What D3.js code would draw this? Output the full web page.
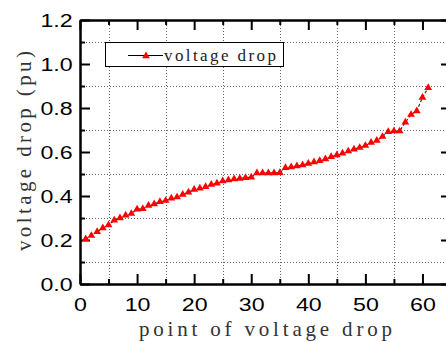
<!DOCTYPE html>
<html>
<head>
<meta charset="utf-8">
<script src="https://cdn.jsdelivr.net/npm/d3@7"></script>
<style>
  body { margin:0; background:#fff; }
  svg { display:block; }
</style>
</head>
<body>
<script>
// --- data -----------------------------------------------------------
const points = d3.range(1, 62);
const drop = [
  0.205, 0.220, 0.238, 0.255, 0.268, 0.290, 0.300, 0.313, 0.320, 0.340,
  0.342, 0.357, 0.364, 0.374, 0.379, 0.390, 0.395, 0.407, 0.417, 0.430,
  0.435, 0.442, 0.452, 0.458, 0.468, 0.473, 0.477, 0.480, 0.483, 0.485,
  0.505, 0.505, 0.505, 0.505, 0.506, 0.528, 0.532, 0.536, 0.541, 0.548,
  0.555, 0.560, 0.568, 0.578, 0.586, 0.594, 0.604, 0.613, 0.620, 0.629,
  0.643, 0.652, 0.670, 0.692, 0.695, 0.695, 0.735, 0.770, 0.786, 0.848,
  0.892
];
const xMajor = [0, 10, 20, 30, 40, 50, 60];
const xMinor = [5, 15, 25, 35, 45, 55, 65];
const yMajor = [0, 0.2, 0.4, 0.6, 0.8, 1.0, 1.2];
const yMinor = [0.1, 0.3, 0.5, 0.7, 0.9, 1.1];
const seriesName = "voltage drop";
const xTitle = "point of voltage drop";
const yTitle = "voltage drop (pu)";

const W = 446, H = 342;
const margin = { top:20, right:-5, bottom:58, left:80 };
const SX = 1.22; // tick labels look horizontally stretched
const SERIF = "Liberation Serif, serif";

const x = d3.scaleLinear([0, 65], [margin.left, W - margin.right]);
const y = d3.scaleLinear([0, 1.2], [H - margin.bottom, margin.top]);

const svg = d3.select("body").append("svg")
  .attr("width", W).attr("height", H)
  .attr("viewBox", `0 0 ${W} ${H}`);

// --- dotted grid on minor positions -----------------------------------
const grid = svg.append("g")
  .attr("stroke", "#666").attr("stroke-width", 1)
  .attr("stroke-dasharray", "1,2");
grid.selectAll("line.v").data(xMinor).join("line").attr("class", "v")
  .attr("x1", d => Math.round(x(d)) + .5).attr("x2", d => Math.round(x(d)) + .5)
  .attr("y1", y(0)).attr("y2", y(1.2));
grid.selectAll("line.h").data(yMinor).join("line").attr("class", "h")
  .attr("y1", d => Math.round(y(d)) + .5).attr("y2", d => Math.round(y(d)) + .5)
  .attr("x1", x(0)).attr("x2", x(65));

// --- axes (ticks point inward) ------------------------------------------
function styleAxis(g) {
  g.select(".domain").attr("stroke", "#000").attr("stroke-width", 2);
  g.selectAll(".tick line").attr("stroke", "#000").attr("stroke-width", 2);
  g.selectAll("text").attr("fill", "#000")
    .attr("font-family", "Liberation Sans, Arial, sans-serif")
    .attr("font-size", 19)
    .attr("transform", `scale(${SX},1)`);
}
const noLabel = () => "";

// bottom
svg.append("g").attr("transform", `translate(0,${y(0)})`)
  .call(d3.axisBottom(x).tickValues(xMinor).tickSize(-5).tickFormat(noLabel).tickSizeOuter(0))
  .call(styleAxis);
svg.append("g").attr("transform", `translate(0,${y(0)})`)
  .call(d3.axisBottom(x).tickValues(xMajor).tickSize(-10).tickPadding(14)
        .tickFormat(d3.format("d")).tickSizeOuter(0))
  .call(styleAxis);
// top
svg.append("g").attr("transform", `translate(0,${y(1.2)})`)
  .call(d3.axisTop(x).tickValues(xMinor).tickSize(-5).tickFormat(noLabel).tickSizeOuter(0))
  .call(styleAxis);
svg.append("g").attr("transform", `translate(0,${y(1.2)})`)
  .call(d3.axisTop(x).tickValues(xMajor).tickSize(-10).tickFormat(noLabel).tickSizeOuter(0))
  .call(styleAxis);
// left
svg.append("g").attr("transform", `translate(${x(0)},0)`)
  .call(d3.axisLeft(y).tickValues(yMinor).tickSize(-5).tickFormat(noLabel).tickSizeOuter(0))
  .call(styleAxis);
svg.append("g").attr("transform", `translate(${x(0)},0)`)
  .call(d3.axisLeft(y).tickValues(yMajor).tickSize(-10).tickPadding(6)
        .tickFormat(d3.format(".1f")).tickSizeOuter(0))
  .call(styleAxis);
// right
svg.append("g").attr("transform", `translate(${x(65)},0)`)
  .call(d3.axisRight(y).tickValues(yMinor).tickSize(-5).tickFormat(noLabel).tickSizeOuter(0))
  .call(styleAxis);
svg.append("g").attr("transform", `translate(${x(65)},0)`)
  .call(d3.axisRight(y).tickValues(yMajor).tickSize(-10).tickFormat(noLabel).tickSizeOuter(0))
  .call(styleAxis);

// --- series -----------------------------------------------------------
const data = points.map((p, i) => ({ p, v: drop[i] }));
const tri = d3.symbol(d3.symbolTriangle, 26);

svg.append("path").datum(data)
  .attr("fill", "none").attr("stroke", "#333").attr("stroke-width", 1.2)
  .attr("stroke-dasharray", "3,2")
  .attr("d", d3.line(d => x(d.p), d => y(d.v)));

svg.append("g").attr("fill", "#ff0000")
  .selectAll("path").data(data).join("path")
  .attr("transform", d => `translate(${x(d.p)},${y(d.v)})`)
  .attr("d", tri);

// --- legend -------------------------------------------------------------
const lg = svg.append("g");
lg.append("rect").attr("x", 105.5).attr("y", 42.5).attr("width", 178).attr("height", 24)
  .attr("fill", "#fff").attr("stroke", "#000").attr("stroke-width", 1);
lg.append("line").attr("x1", 128).attr("x2", 163).attr("y1", 55.5).attr("y2", 55.5)
  .attr("stroke", "#000").attr("stroke-width", 1);
lg.append("path").attr("transform", "translate(146,56)").attr("d", tri).attr("fill", "#ff0000");
lg.append("text").attr("x", 164).attr("y", 61)
  .attr("font-family", SERIF).attr("font-size", 17)
  .attr("textLength", 112).attr("lengthAdjust", "spacing")
  .attr("fill", "#222").text(seriesName);

// --- axis titles ----------------------------------------------------------
svg.append("text")
  .attr("x", 139).attr("y", 336)
  .attr("font-family", SERIF).attr("font-size", 21)
  .attr("textLength", 253).attr("lengthAdjust", "spacing")
  .attr("fill", "#333").text(xTitle);
svg.append("text")
  .attr("transform", "translate(31,251) rotate(-90)")
  .attr("font-family", SERIF).attr("font-size", 21)
  .attr("textLength", 200).attr("lengthAdjust", "spacing")
  .attr("fill", "#333").text(yTitle);
</script>
</body>
</html>
